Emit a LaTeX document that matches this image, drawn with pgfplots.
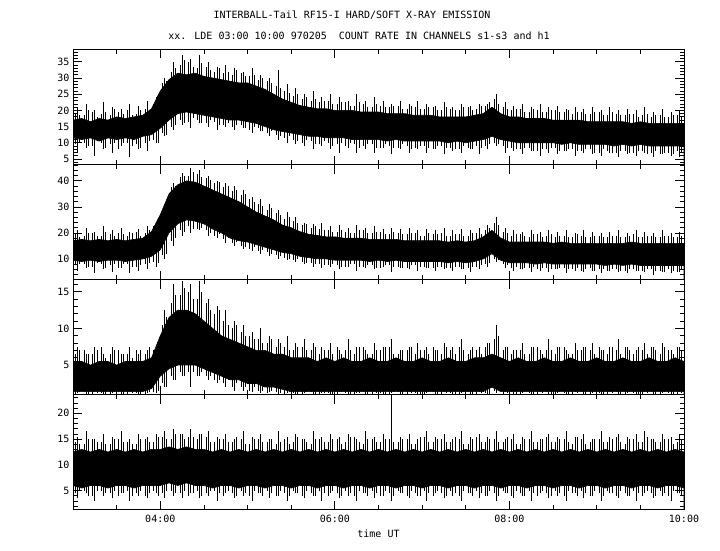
\documentclass[border=0pt]{standalone}
\usepackage{fontspec}
\setmainfont{DejaVu Sans Mono}
\usepackage{pgfplots}
\usepackage{pgfplotstable}
\pgfplotsset{compat=1.18}

% t = hours UT; clo/chi = dense core of the trace;
% slo/shi, alo/ahi, blo/bhi = extents of the spikes beside each core point
\pgfplotstableread{
t clo chi slo shi alo ahi blo bhi
3.0 11.5 17.0 7.0 21.0 9.5 19.0 10.0 18.5
3.1 11.0 17.5 8.5 22.0 10.0 18.5 9.0 20.0
3.2 11.5 16.5 6.0 20.0 9.0 19.5 10.5 18.0
3.3 10.5 17.5 8.0 22.5 10.0 19.0 8.5 19.5
3.4 11.5 17.0 7.0 21.0 9.5 18.5 10.0 20.5
3.5 11.0 18.0 9.0 20.5 8.0 19.5 10.0 19.0
3.6 11.5 17.5 5.5 22.0 10.0 20.0 9.0 18.5
3.7 11.0 18.0 8.0 21.5 9.5 19.0 8.5 20.0
3.8 12.0 18.5 7.5 23.0 10.0 20.5 10.5 19.5
3.9 12.5 20.5 10.0 24.0 11.0 22.0 10.0 23.0
4.0 14.5 26.0 12.0 30.0 13.0 28.5 12.5 29.0
4.1 17.0 29.5 14.0 35.0 15.0 32.0 15.5 33.0
4.2 19.0 31.5 15.5 37.0 17.0 34.0 16.0 35.5
4.3 19.5 31.0 14.5 36.0 16.5 35.0 17.5 33.5
4.4 19.0 31.5 16.0 37.0 17.0 33.0 16.0 34.5
4.5 18.5 30.5 15.0 35.0 16.0 33.5 17.0 32.5
4.6 18.0 30.0 14.0 33.5 16.5 32.0 15.5 33.0
4.7 17.5 29.5 15.0 34.0 15.5 31.5 16.0 32.0
4.8 17.0 29.0 14.0 33.0 15.0 31.0 15.5 32.5
4.9 17.0 28.5 14.5 32.0 15.5 31.5 14.5 30.5
5.0 16.5 28.5 13.0 33.0 14.0 30.5 15.0 31.0
5.1 16.0 27.5 13.5 31.0 14.5 29.5 13.5 30.0
5.2 15.0 26.5 12.0 30.0 13.0 29.0 13.5 28.5
5.3 14.0 25.0 11.0 32.5 12.5 27.5 12.0 27.0
5.4 13.5 23.5 10.0 28.0 11.5 26.0 12.0 25.5
5.5 13.0 22.5 9.5 27.0 11.0 24.5 10.5 25.0
5.6 12.5 21.5 9.0 25.0 10.0 23.5 11.0 24.0
5.7 12.0 21.0 8.0 26.0 10.5 23.0 9.5 23.5
5.8 12.0 20.5 9.0 24.0 9.5 22.5 10.5 23.0
5.9 11.5 20.5 8.0 25.0 10.0 23.0 9.0 22.0
6.0 11.5 20.0 7.0 24.0 9.5 22.0 10.0 22.5
6.1 11.5 20.0 8.5 23.0 9.0 22.5 10.0 21.5
6.2 11.0 20.0 7.0 25.0 9.5 21.5 8.5 22.5
6.3 11.0 19.5 8.0 23.0 9.0 22.0 9.5 21.0
6.4 11.0 19.5 7.0 24.0 9.5 21.0 8.5 22.0
6.5 11.0 19.5 8.5 23.0 8.5 21.5 9.5 21.0
6.6 10.5 19.0 6.5 22.0 9.0 21.0 8.5 21.5
6.7 11.0 19.0 8.0 23.0 8.5 21.5 9.5 20.5
6.8 10.5 19.0 7.0 22.0 9.0 20.5 8.0 21.5
6.9 10.5 18.5 8.0 23.0 8.5 21.0 9.0 20.5
7.0 10.5 18.5 7.0 22.0 9.0 20.5 8.5 21.0
7.1 10.5 18.5 8.0 21.5 8.0 21.0 9.0 20.0
7.2 10.5 18.0 6.5 22.5 9.0 20.0 8.5 21.0
7.3 10.0 18.0 7.5 21.0 8.5 20.5 8.0 20.0
7.4 10.5 18.0 7.0 22.0 8.0 20.0 9.0 21.0
7.5 10.0 18.0 8.0 21.5 8.5 21.0 8.0 20.0
7.6 10.5 18.5 6.5 22.0 9.0 20.5 8.5 21.5
7.7 11.0 19.0 8.0 22.0 9.0 21.5 9.5 22.5
7.8 12.0 21.0 9.0 25.0 10.0 23.5 9.5 22.0
7.9 11.0 19.0 7.0 22.5 9.0 21.0 8.5 20.5
8.0 10.5 18.0 7.5 21.5 8.5 20.0 8.0 20.5
8.1 10.0 18.0 6.5 22.0 8.0 20.5 8.5 19.5
8.2 10.0 17.5 7.5 21.0 8.5 19.5 7.5 20.5
8.3 10.0 17.5 6.0 22.0 7.5 20.0 8.0 19.5
8.4 10.0 17.5 7.0 21.0 8.0 19.5 8.5 20.0
8.5 10.0 17.0 6.5 21.5 8.5 20.0 7.5 19.5
8.6 9.5 17.0 7.5 20.5 7.5 19.5 8.0 20.0
8.7 10.0 17.0 6.0 21.0 8.0 19.0 7.5 19.5
8.8 9.5 17.0 7.0 20.5 7.5 19.5 8.0 19.0
8.9 9.5 16.5 6.5 21.0 8.0 19.0 7.0 19.5
9.0 9.5 16.5 6.0 20.0 7.0 19.5 8.0 18.5
9.1 9.5 16.5 7.0 21.0 7.5 18.5 7.0 19.5
9.2 9.0 16.5 5.5 20.0 7.0 19.0 7.5 18.5
9.3 9.5 16.5 6.5 20.5 7.5 18.5 7.0 19.0
9.4 9.0 16.0 6.0 20.0 7.0 19.0 7.5 18.0
9.5 9.5 16.5 7.0 21.0 7.5 18.5 6.5 19.0
9.6 9.0 16.0 5.5 19.5 7.0 18.0 7.5 18.5
9.7 9.0 16.0 6.5 20.5 6.5 18.5 7.0 18.0
9.8 9.0 16.0 6.0 19.5 7.0 18.0 6.5 18.5
9.9 9.0 16.0 5.5 20.0 7.5 18.5 7.0 18.0
10.0 9.0 16.0 6.0 19.5 7.0 18.0 7.5 18.5
}\tabA

\pgfplotstableread{
t clo chi slo shi alo ahi blo bhi
3.0 9.5 17.0 5.5 21.0 7.5 19.5 8.0 18.5
3.1 9.0 17.5 6.5 22.0 8.0 19.0 7.0 20.0
3.2 9.5 17.0 4.5 20.5 7.0 20.0 8.5 19.0
3.3 9.0 17.5 6.0 22.5 8.0 19.0 6.5 20.5
3.4 9.5 17.0 5.0 21.0 7.5 19.5 8.0 19.0
3.5 9.5 17.5 6.5 22.0 6.5 20.0 8.0 19.5
3.6 9.0 17.0 4.5 20.5 8.0 19.0 7.0 20.0
3.7 9.5 17.5 5.5 21.5 7.0 20.5 7.5 19.0
3.8 10.0 18.0 6.0 22.5 8.0 20.0 8.5 21.0
3.9 11.0 20.5 7.0 24.0 9.0 22.5 8.5 23.0
4.0 13.5 27.0 10.0 31.0 11.5 29.0 12.0 30.0
4.1 20.0 35.0 15.0 39.0 17.0 37.5 18.0 38.0
4.2 23.5 38.5 19.0 43.0 21.0 41.5 20.5 42.0
4.3 25.0 40.0 20.0 45.0 22.5 42.0 21.5 43.5
4.4 24.5 39.5 21.0 44.0 21.5 42.5 22.0 41.5
4.5 23.5 38.0 19.0 42.0 21.0 41.0 20.0 40.5
4.6 21.5 36.5 18.0 40.0 19.0 39.0 19.5 39.5
4.7 20.0 35.0 16.0 39.0 17.5 37.5 18.0 38.0
4.8 18.0 33.5 15.0 38.0 16.0 36.0 16.5 36.5
4.9 17.0 32.0 14.0 36.5 15.0 34.5 14.5 35.0
5.0 16.5 30.0 13.0 34.0 14.0 33.0 14.5 32.0
5.1 15.5 28.0 12.0 33.0 13.0 31.0 13.5 30.5
5.2 14.5 26.5 11.0 31.0 12.5 29.0 12.0 29.5
5.3 13.5 25.0 10.0 29.0 11.5 27.5 11.0 27.0
5.4 12.5 23.0 9.5 28.0 10.5 25.5 10.0 26.0
5.5 12.0 22.0 9.0 26.0 9.5 24.5 10.0 24.0
5.6 11.0 20.5 8.0 24.0 9.0 23.0 8.5 23.5
5.7 10.5 19.5 7.0 23.5 8.5 22.0 8.0 22.5
5.8 10.0 19.0 6.5 24.0 8.0 21.5 7.5 21.0
5.9 10.0 18.5 7.0 22.5 7.5 21.0 8.0 20.5
6.0 9.5 18.5 6.0 23.0 7.5 20.5 7.0 21.0
6.1 9.5 18.0 7.0 22.0 7.0 20.5 8.0 20.0
6.2 9.5 18.0 5.5 23.0 8.0 20.0 7.0 21.0
6.3 9.5 18.0 6.5 22.0 7.0 21.0 7.5 20.0
6.4 9.0 17.5 6.0 22.5 7.5 20.0 6.5 20.5
6.5 9.5 17.5 7.0 21.5 6.5 20.5 7.5 19.5
6.6 9.0 17.5 5.0 22.0 7.5 19.5 7.0 20.5
6.7 9.5 17.5 6.5 21.5 7.0 20.0 6.5 19.5
6.8 9.0 17.0 6.0 22.0 6.5 19.5 7.5 20.0
6.9 9.0 17.0 5.5 21.0 7.5 20.0 7.0 19.0
7.0 9.0 17.0 6.5 21.5 7.0 19.0 6.5 20.0
7.1 9.0 17.0 5.5 21.0 6.5 19.5 7.0 19.5
7.2 9.0 17.0 6.0 22.0 7.0 20.0 6.5 19.0
7.3 8.5 16.5 5.5 21.0 6.5 19.0 7.0 19.5
7.4 9.0 17.0 6.0 21.5 7.0 19.5 6.0 19.0
7.5 8.5 16.5 5.0 21.0 6.5 19.0 7.0 20.0
7.6 9.0 17.0 6.0 22.0 7.0 20.0 7.5 19.5
7.7 10.0 18.5 7.0 23.0 8.0 21.0 8.5 22.0
7.8 12.0 21.0 9.0 26.0 10.0 24.0 9.5 23.0
7.9 9.5 18.0 6.5 22.0 8.0 20.5 7.5 20.0
8.0 8.5 16.5 5.5 21.0 6.5 19.0 7.0 19.5
8.1 8.5 16.5 6.0 20.5 6.0 19.5 6.5 19.0
8.2 8.5 16.5 5.0 21.0 6.5 18.5 7.0 19.5
8.3 8.0 16.5 5.5 20.5 6.0 19.5 6.5 18.5
8.4 8.5 16.5 5.0 21.0 6.5 19.0 6.0 19.5
8.5 8.0 16.0 6.0 20.5 6.0 18.5 6.5 19.0
8.6 8.0 16.5 4.5 21.0 6.5 19.0 6.0 18.5
8.7 8.0 16.0 5.5 20.0 6.0 18.5 6.5 19.5
8.8 8.0 16.0 5.0 21.0 5.5 19.0 6.0 18.5
8.9 8.0 16.0 5.5 20.5 6.5 18.5 5.5 19.0
9.0 8.0 16.0 4.5 20.0 6.0 19.0 6.0 18.5
9.1 7.5 16.0 5.5 20.5 5.5 18.5 6.0 19.0
9.2 8.0 16.0 5.0 21.0 6.0 19.0 5.5 18.5
9.3 7.5 16.0 4.5 20.0 5.5 18.5 6.0 19.0
9.4 8.0 16.5 5.5 21.0 6.0 19.5 5.5 18.5
9.5 7.5 16.0 5.0 20.5 5.5 18.5 6.0 19.0
9.6 7.5 16.0 4.0 20.0 6.0 19.0 5.5 18.5
9.7 7.5 16.0 5.0 21.0 5.5 18.5 5.0 19.0
9.8 7.5 16.0 4.5 20.0 6.0 19.0 5.5 18.5
9.9 7.5 16.0 5.0 20.5 5.0 18.5 6.0 19.0
10.0 7.5 16.0 4.5 20.0 5.5 19.0 5.5 18.5
}\tabB

\pgfplotstableread{
t clo chi slo shi alo ahi blo bhi
3.0 1.4 5.5 1.2 7.5 1.0 6.5 1.3 7.0
3.1 1.4 5.5 1.0 6.5 1.3 7.0 1.0 6.5
3.2 1.4 5.0 1.3 7.5 1.0 6.5 1.2 7.0
3.3 1.4 5.5 1.1 6.5 1.2 7.5 1.0 6.0
3.4 1.4 5.5 1.2 7.5 1.0 6.5 1.3 7.0
3.5 1.4 5.0 1.0 6.5 1.3 7.0 1.1 6.5
3.6 1.4 5.5 1.3 7.5 1.0 6.5 1.2 6.0
3.7 1.4 5.5 1.1 6.5 1.2 7.0 1.0 7.0
3.8 1.4 5.5 1.2 7.0 1.0 6.5 1.3 7.5
3.9 1.8 6.0 1.2 7.5 1.3 7.0 1.5 8.0
4.0 3.5 9.0 2.0 12.5 2.5 10.5 2.0 11.5
4.1 4.5 11.5 3.0 16.0 3.5 13.5 3.0 14.5
4.2 5.0 12.5 3.5 16.5 4.0 14.5 3.5 15.5
4.3 5.0 12.5 2.0 16.0 4.0 15.0 4.0 14.0
4.4 5.0 12.0 3.5 16.5 3.5 14.0 4.0 15.0
4.5 4.5 11.0 3.0 14.0 3.5 13.5 3.5 12.5
4.6 4.0 10.0 2.5 13.0 3.0 12.0 3.0 12.5
4.7 3.5 9.0 2.0 12.5 2.5 11.0 3.0 10.5
4.8 3.0 8.5 1.5 11.0 2.0 10.0 2.5 10.5
4.9 3.0 8.0 1.5 10.5 2.0 9.5 2.0 9.0
5.0 2.5 7.5 1.3 9.5 1.5 9.0 2.0 8.5
5.1 2.5 7.0 1.2 10.0 1.5 8.5 1.5 8.0
5.2 2.0 7.0 1.3 9.0 1.2 8.0 1.5 8.5
5.3 2.0 6.5 1.1 8.5 1.3 7.5 1.2 8.0
5.4 1.7 6.5 1.2 9.0 1.0 7.5 1.3 7.0
5.5 1.4 6.0 1.1 8.0 1.2 7.0 1.0 7.5
5.6 1.4 6.0 1.2 8.5 1.0 7.5 1.3 7.0
5.7 1.4 6.0 1.1 8.0 1.3 7.0 1.0 7.5
5.8 1.4 5.5 1.2 7.5 1.0 6.5 1.2 7.0
5.9 1.4 6.0 1.0 8.0 1.2 7.0 1.0 6.5
6.0 1.4 5.5 1.3 7.0 1.0 7.5 1.3 6.5
6.1 1.4 6.0 1.1 8.5 1.2 7.0 1.0 7.0
6.2 1.4 5.5 1.2 7.5 1.0 6.5 1.2 7.5
6.3 1.4 5.5 1.0 7.0 1.3 7.5 1.0 6.5
6.4 1.4 6.0 1.3 8.0 1.0 6.5 1.2 7.0
6.5 1.4 5.5 1.1 7.5 1.2 7.0 1.0 7.5
6.6 1.4 5.5 1.2 8.5 1.0 7.5 1.3 6.5
6.7 1.4 6.0 1.0 7.0 1.3 6.5 1.0 7.0
6.8 1.4 5.5 1.3 7.5 1.0 7.0 1.2 7.5
6.9 1.4 5.5 1.1 8.0 1.2 6.5 1.0 7.0
7.0 1.4 6.0 1.2 7.5 1.0 7.0 1.3 6.5
7.1 1.4 5.5 1.0 7.0 1.3 7.5 1.0 7.0
7.2 1.4 5.5 1.3 8.0 1.0 6.5 1.2 7.5
7.3 1.4 6.0 1.1 7.5 1.2 7.0 1.0 6.5
7.4 1.4 5.5 1.2 8.5 1.0 7.5 1.3 7.0
7.5 1.4 5.5 1.0 7.0 1.3 6.5 1.0 7.5
7.6 1.4 6.0 1.3 7.5 1.0 7.0 1.2 6.5
7.7 1.4 6.0 1.1 8.0 1.2 7.5 1.0 8.0
7.8 2.0 6.5 1.2 10.5 1.5 8.5 2.5 9.0
7.9 1.4 6.0 1.3 7.5 1.0 7.0 1.2 7.5
8.0 1.4 5.5 1.0 7.0 1.3 6.5 1.0 7.0
8.1 1.4 6.0 1.2 8.0 1.0 7.0 1.3 6.5
8.2 1.4 5.5 1.1 7.5 1.2 6.5 1.0 7.5
8.3 1.4 5.5 1.3 7.0 1.0 7.5 1.2 6.5
8.4 1.4 6.0 1.0 8.5 1.3 7.0 1.0 7.0
8.5 1.4 5.5 1.2 7.5 1.0 6.5 1.3 7.5
8.6 1.4 5.5 1.1 7.0 1.2 7.5 1.0 6.5
8.7 1.4 6.0 1.3 8.0 1.0 6.5 1.2 7.0
8.8 1.4 5.5 1.0 7.5 1.3 7.0 1.0 7.5
8.9 1.4 5.5 1.2 8.0 1.0 7.0 1.3 6.5
9.0 1.4 6.0 1.1 7.0 1.2 7.5 1.0 7.0
9.1 1.4 5.5 1.3 7.5 1.0 6.5 1.2 7.5
9.2 1.4 5.5 1.0 8.5 1.3 7.0 1.0 6.5
9.3 1.4 6.0 1.2 7.5 1.0 7.5 1.3 7.0
9.4 1.4 5.5 1.1 7.0 1.2 6.5 1.0 7.5
9.5 1.4 5.5 1.3 8.0 1.0 7.0 1.2 6.5
9.6 1.4 6.0 1.0 7.5 1.3 7.5 1.0 7.0
9.7 1.4 5.5 1.2 8.0 1.0 6.5 1.3 7.5
9.8 1.4 5.5 1.1 7.0 1.2 7.0 1.0 6.5
9.9 1.4 6.0 1.3 7.5 1.0 7.5 1.2 7.0
10.0 1.4 5.5 1.2 7.5 1.3 6.5 1.0 7.0
}\tabC

\pgfplotstableread{
t clo chi slo shi alo ahi blo bhi
3.0 6.0 12.5 3.5 15.5 4.5 14.5 5.0 14.0
3.1 5.5 13.0 4.5 16.5 5.0 14.0 4.0 15.0
3.2 6.0 12.5 3.0 15.0 4.0 15.0 5.0 14.5
3.3 6.0 13.0 4.0 16.0 5.0 14.5 4.5 14.0
3.4 5.5 12.5 3.5 15.5 4.5 14.0 5.0 15.0
3.5 6.0 13.0 4.5 16.5 4.0 15.0 4.5 14.5
3.6 6.0 12.5 3.0 15.0 5.0 14.5 4.0 14.0
3.7 5.5 13.0 4.0 16.0 4.5 14.0 5.0 15.0
3.8 6.0 12.5 3.5 15.5 4.0 15.0 4.5 14.5
3.9 6.0 13.0 4.5 16.0 5.0 14.5 4.0 15.5
4.0 6.0 13.0 3.5 16.5 4.5 15.5 5.0 15.0
4.1 6.5 13.5 4.0 17.0 5.0 15.0 4.5 16.0
4.2 6.0 13.0 3.5 16.0 4.5 16.0 5.0 15.0
4.3 6.5 13.5 4.5 17.0 4.0 15.5 4.5 15.5
4.4 6.0 13.0 3.5 16.0 5.0 15.0 4.0 16.0
4.5 6.0 13.0 4.0 16.5 4.5 15.5 5.0 14.5
4.6 5.5 12.5 3.0 15.5 5.0 14.5 4.5 15.0
4.7 6.0 13.0 4.5 16.0 4.0 15.0 5.0 14.5
4.8 6.0 12.5 3.5 15.0 4.5 14.5 4.0 15.5
4.9 5.5 13.0 4.0 16.5 5.0 15.0 4.5 14.0
5.0 6.0 12.5 3.0 15.5 4.0 14.0 5.0 15.0
5.1 6.0 13.0 4.5 16.0 4.5 15.0 4.0 14.5
5.2 5.5 12.5 3.5 15.0 5.0 14.5 4.5 15.0
5.3 6.0 13.0 4.0 16.5 4.0 14.0 5.0 14.5
5.4 6.0 12.5 3.0 15.5 4.5 15.0 4.0 14.0
5.5 5.5 13.0 4.5 16.0 5.0 14.5 4.5 15.5
5.6 6.0 12.5 3.5 15.0 4.0 15.0 5.0 14.5
5.7 6.0 13.0 4.0 16.5 4.5 14.0 4.0 15.0
5.8 5.5 12.5 3.0 15.5 5.0 15.0 4.5 14.5
5.9 6.0 13.0 4.5 16.0 4.0 14.5 5.0 15.0
6.0 6.0 12.5 3.5 15.5 4.5 15.0 4.0 14.0
6.1 5.5 13.0 4.0 16.0 5.0 14.5 4.5 15.5
6.2 6.0 12.5 3.0 15.0 4.0 15.5 5.0 14.5
6.3 6.0 13.0 4.5 16.5 4.5 14.0 4.0 15.0
6.4 5.5 12.5 3.5 15.5 5.0 15.0 4.5 14.5
6.5 6.0 13.0 4.0 16.0 4.0 14.5 5.0 15.0
6.6 6.0 12.5 3.0 23.6 4.5 15.0 4.0 14.5
6.7 5.5 13.0 4.5 15.5 5.0 14.5 4.5 15.0
6.8 6.0 12.5 3.5 16.0 4.0 15.0 5.0 14.0
6.9 6.0 13.0 4.0 15.0 4.5 14.0 4.0 15.5
7.0 5.5 12.5 3.0 16.5 5.0 15.5 4.5 14.5
7.1 6.0 13.0 4.5 15.5 4.0 14.5 5.0 15.0
7.2 6.0 12.5 3.5 16.0 4.5 15.0 4.0 14.5
7.3 5.5 13.0 4.0 15.0 5.0 14.5 4.5 15.5
7.4 6.0 12.5 3.0 16.5 4.0 15.0 5.0 14.0
7.5 6.0 13.0 4.5 15.5 4.5 14.0 4.0 15.0
7.6 5.5 12.5 3.5 16.0 5.0 15.5 4.5 14.5
7.7 6.0 13.0 4.0 15.5 4.0 14.5 5.0 15.0
7.8 6.0 12.5 3.0 16.5 4.5 15.0 4.0 14.5
7.9 5.5 13.0 4.5 15.0 5.0 14.5 4.5 15.5
8.0 6.0 12.5 3.5 16.0 4.0 15.0 5.0 14.0
8.1 6.0 13.0 4.0 15.5 4.5 14.0 4.0 15.0
8.2 5.5 12.5 3.0 16.5 5.0 15.0 4.5 14.5
8.3 6.0 13.0 4.5 15.0 4.0 14.5 5.0 15.0
8.4 6.0 12.5 3.5 16.0 4.5 15.5 4.0 14.5
8.5 5.5 13.0 4.0 15.5 5.0 14.5 4.5 15.0
8.6 6.0 12.5 3.0 16.5 4.0 15.0 5.0 14.5
8.7 6.0 13.0 4.5 15.5 4.5 14.0 4.0 15.5
8.8 5.5 12.5 3.5 16.0 5.0 15.0 4.5 14.0
8.9 6.0 13.0 4.0 15.0 4.0 14.5 5.0 15.0
9.0 6.0 12.5 3.0 16.5 4.5 15.0 4.0 14.5
9.1 5.5 13.0 4.5 15.5 5.0 14.5 4.5 15.0
9.2 6.0 12.5 3.5 16.0 4.0 15.5 5.0 14.5
9.3 6.0 13.0 4.0 15.5 4.5 14.0 4.0 15.0
9.4 5.5 12.5 3.0 16.0 5.0 15.0 4.5 14.5
9.5 6.0 13.0 4.5 16.5 4.0 14.5 5.0 15.5
9.6 6.0 12.5 3.5 15.0 4.5 15.0 4.0 14.5
9.7 5.5 13.0 4.0 16.0 5.0 14.5 4.5 15.0
9.8 6.0 12.5 3.0 15.5 4.0 15.0 5.0 14.0
9.9 6.0 13.0 4.5 16.0 4.5 14.5 4.0 15.0
10.0 5.5 12.5 3.5 15.5 5.0 14.0 4.5 14.5
}\tabD

\pgfplotsset{
  panel/.style={
    scale only axis, width=611pt, height=115pt,
    anchor=south west,
    axis on top,
    xmin=3, xmax=10,
    xtick={4,6,8,10},
    minor xtick={3.5,4.5,5,5.5,6.5,7,7.5,8.5,9,9.5},
    xticklabels={},
    tick align=inside,
    major tick length=9pt, minor tick length=4.5pt,
    yticklabel pos=left,
    axis line style={line width=0.8pt},
    tick style={black, line width=0.8pt},
    tick label style={font=\fontsize{10}{12}\selectfont},
    /pgf/number format/assume math mode=true,
  },
  corehi/.style={fill=black, draw=black, line width=0.6pt},
  corelo/.style={fill=white, draw=black, line width=0.6pt},
  spikes/.style={draw=none, mark=none,
    error bars/.cd, y dir=plus, y explicit, error mark=none,
    error bar style={draw=black, solid, line width=0.7pt}},
}

\begin{document}
\begin{tikzpicture}
\path[use as bounding box] (0pt,0pt) rectangle (720pt,550pt);

\node[font=\fontsize{10}{12}\selectfont] at (352pt,535pt) {INTERBALL-Tail RF15-I HARD/SOFT X-RAY EMISSION};
\node[font=\fontsize{10}{12}\selectfont] at (359pt,514pt) {xx. LDE 03:00 10:00 970205\ \ COUNT RATE IN CHANNELS s1-s3 and h1};

\begin{axis}[panel, at={(73pt,385.5pt)}, ymin=3.3, ymax=38.8,
  ytick={5,10,...,35}, minor ytick={4,...,38}]
  \addplot[corehi] table[x=t, y=chi] {\tabA} \closedcycle;
  \addplot[corelo] table[x=t, y=clo] {\tabA} \closedcycle;
  \addplot[spikes] table[x expr=\thisrow{t}+0.05, y=slo, y error expr=\thisrow{shi}-\thisrow{slo}] {\tabA};
  \addplot[spikes] table[x expr=\thisrow{t}+0.025, y=alo, y error expr=\thisrow{ahi}-\thisrow{alo}] {\tabA};
  \addplot[spikes] table[x expr=\thisrow{t}+0.075, y=blo, y error expr=\thisrow{bhi}-\thisrow{blo}] {\tabA};
\end{axis}

\begin{axis}[panel, at={(73pt,270.5pt)}, ymin=2.1, ymax=46.3,
  ytick={10,20,30,40}, minor ytick={4,6,...,46}]
  \addplot[corehi] table[x=t, y=chi] {\tabB} \closedcycle;
  \addplot[corelo] table[x=t, y=clo] {\tabB} \closedcycle;
  \addplot[spikes] table[x expr=\thisrow{t}+0.05, y=slo, y error expr=\thisrow{shi}-\thisrow{slo}] {\tabB};
  \addplot[spikes] table[x expr=\thisrow{t}+0.025, y=alo, y error expr=\thisrow{ahi}-\thisrow{alo}] {\tabB};
  \addplot[spikes] table[x expr=\thisrow{t}+0.075, y=blo, y error expr=\thisrow{bhi}-\thisrow{blo}] {\tabB};
\end{axis}

\begin{axis}[panel, at={(73pt,155.5pt)}, ymin=1.0, ymax=16.66,
  ytick={5,10,15}, minor ytick={2,...,16}]
  \addplot[corehi] table[x=t, y=chi] {\tabC} \closedcycle;
  \addplot[corelo] table[x=t, y=clo] {\tabC} \closedcycle;
  \addplot[spikes] table[x expr=\thisrow{t}+0.05, y=slo, y error expr=\thisrow{shi}-\thisrow{slo}] {\tabC};
  \addplot[spikes] table[x expr=\thisrow{t}+0.025, y=alo, y error expr=\thisrow{ahi}-\thisrow{alo}] {\tabC};
  \addplot[spikes] table[x expr=\thisrow{t}+0.075, y=blo, y error expr=\thisrow{bhi}-\thisrow{blo}] {\tabC};
\end{axis}

\begin{axis}[panel, at={(73pt,40.5pt)}, ymin=1.35, ymax=23.65,
  ytick={5,10,15,20}, minor ytick={2,...,23},
  xticklabels={04:00,06:00,08:00,10:00},
  xticklabel style={yshift=-2pt},
  xlabel={time UT}, xlabel style={font=\fontsize{10}{12}\selectfont}]
  \addplot[corehi] table[x=t, y=chi] {\tabD} \closedcycle;
  \addplot[corelo] table[x=t, y=clo] {\tabD} \closedcycle;
  \addplot[spikes] table[x expr=\thisrow{t}+0.05, y=slo, y error expr=\thisrow{shi}-\thisrow{slo}] {\tabD};
  \addplot[spikes] table[x expr=\thisrow{t}+0.025, y=alo, y error expr=\thisrow{ahi}-\thisrow{alo}] {\tabD};
  \addplot[spikes] table[x expr=\thisrow{t}+0.075, y=blo, y error expr=\thisrow{bhi}-\thisrow{blo}] {\tabD};
\end{axis}
\end{tikzpicture}
\end{document}
